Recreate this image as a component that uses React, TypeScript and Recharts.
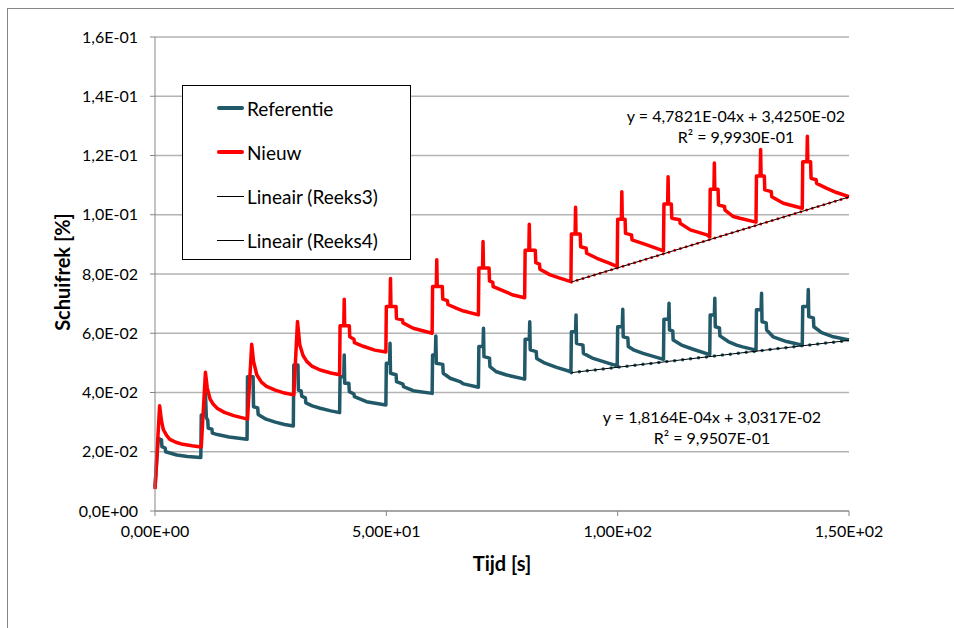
import { LineChart, Line, XAxis, YAxis, CartesianGrid } from 'recharts'

// [tijd (s), schuifrek]
const referentie: [number, number][] = [
  [0, 0.008], [0.7, 0.0245], [1.4, 0.024], [1.5, 0.0217], [2.2, 0.0212], [2.3, 0.02], [4.7, 0.0189], [7.0, 0.0184], [9.9, 0.0181],
  [10.0, 0.0324], [10.8, 0.0324], [10.9, 0.04], [11.1, 0.0315], [11.4, 0.0307], [11.5, 0.028], [12.3, 0.0276], [12.4, 0.0263], [13.5, 0.0258], [16.0, 0.025], [19.9, 0.0242],
  [20.0, 0.0453], [21.2, 0.0453], [21.3, 0.0352], [22.2, 0.0348], [22.3, 0.0326], [24.0, 0.031], [26.0, 0.03], [28.0, 0.0292], [29.9, 0.0287],
  [30.0, 0.0493], [30.9, 0.0493], [31.0, 0.0408], [31.6, 0.0405], [31.7, 0.0388], [32.5, 0.0382], [32.6, 0.0365], [34.0, 0.0355], [35.7, 0.0347], [38.0, 0.0338], [39.9, 0.0332],
  [40.0, 0.0453], [40.8, 0.0453], [40.9, 0.0527], [41.0, 0.0431], [41.9, 0.0431], [42.0, 0.0403], [43.0, 0.0395], [43.1, 0.0386], [45.7, 0.0369], [49.9, 0.0358],
  [50.0, 0.0499], [50.7, 0.0499], [50.8, 0.0566], [50.9, 0.0465], [52.1, 0.046], [52.2, 0.0437], [53.6, 0.0428], [53.7, 0.042], [55.8, 0.0406], [59.9, 0.0397],
  [60.0, 0.0527], [60.6, 0.0527], [60.7, 0.0591], [60.8, 0.0499], [62.2, 0.0495], [62.3, 0.0465], [63.8, 0.0448], [65.9, 0.0437], [66.7, 0.0429], [69.9, 0.0418],
  [70.0, 0.0555], [70.9, 0.0555], [71.0, 0.0617], [71.1, 0.0521], [72.3, 0.0516], [72.4, 0.0487], [73.8, 0.047], [76.0, 0.0459], [79.9, 0.0445],
  [80.0, 0.058], [80.9, 0.058], [81.0, 0.0639], [81.1, 0.0544], [82.4, 0.0538], [82.5, 0.0515], [84.3, 0.0499], [86.8, 0.0485], [89.9, 0.047],
  [90.0, 0.0605], [90.9, 0.0605], [91.0, 0.0662], [91.1, 0.0566], [92.5, 0.056], [92.6, 0.0532], [94.7, 0.0515], [97.6, 0.0501], [99.9, 0.049],
  [100.0, 0.0622], [101.0, 0.0622], [101.1, 0.0681], [101.2, 0.0588], [102.2, 0.0584], [102.3, 0.0555], [103.4, 0.0544], [105.5, 0.0532], [109.9, 0.0512],
  [110.0, 0.0647], [111.0, 0.0647], [111.1, 0.0701], [111.2, 0.0611], [111.9, 0.0608], [112.0, 0.0577], [113.8, 0.056], [116.3, 0.0546], [119.9, 0.0528],
  [120.0, 0.0662], [120.9, 0.0662], [121.0, 0.0718], [121.1, 0.0622], [122.0, 0.0618], [122.1, 0.0591], [123.9, 0.0572], [125.7, 0.056], [127.0, 0.0554], [129.9, 0.0543],
  [130.0, 0.0679], [131.0, 0.0679], [131.1, 0.0735], [131.2, 0.0639], [132.1, 0.0635], [132.2, 0.0611], [133.6, 0.0588], [136.5, 0.0572], [139.9, 0.056],
  [140.0, 0.069], [141.1, 0.069], [141.2, 0.0748], [141.3, 0.0656], [142.3, 0.0652], [142.4, 0.0622], [144.1, 0.0602], [146.6, 0.0588], [150.0, 0.0577],
]

const nieuw: [number, number][] = [
  [0, 0.0074], [1.0, 0.0355], [1.4, 0.0305], [1.8, 0.0275], [2.5, 0.0255], [3.2, 0.0242], [4.5, 0.0232], [6.0, 0.0225], [8.0, 0.022], [10.0, 0.0216],
  [10.9, 0.0468], [11.3, 0.0415], [11.9, 0.0378], [12.6, 0.036], [13.5, 0.0346], [15.0, 0.0333], [17.0, 0.0322], [20.0, 0.031],
  [20.9, 0.0563], [21.3, 0.0505], [22.0, 0.046], [23.0, 0.0435], [24.1, 0.0421], [26.0, 0.0408], [28.0, 0.0398], [30.0, 0.0392],
  [30.8, 0.064], [31.3, 0.056], [32.0, 0.0525], [32.8, 0.0505], [34.0, 0.0488], [35.7, 0.0476], [38.0, 0.0466], [39.9, 0.046],
  [40.0, 0.0625], [40.8, 0.0625], [40.9, 0.0715], [41.0, 0.0625], [42.0, 0.0625], [42.1, 0.0588], [43.0, 0.058], [43.1, 0.0568], [45.0, 0.0556], [47.5, 0.0543], [49.9, 0.0537],
  [50.0, 0.069], [50.8, 0.069], [50.9, 0.0785], [51.0, 0.069], [52.1, 0.069], [52.2, 0.065], [53.5, 0.0645], [53.6, 0.0635], [55.8, 0.0617], [59.9, 0.06],
  [60.0, 0.0758], [60.8, 0.0758], [60.9, 0.0848], [61.0, 0.0758], [62.1, 0.0758], [62.2, 0.0715], [63.2, 0.071], [63.3, 0.0697], [65.2, 0.0684], [66.7, 0.0675], [69.9, 0.0662],
  [70.0, 0.082], [70.8, 0.082], [70.9, 0.091], [71.0, 0.082], [72.2, 0.082], [72.3, 0.0777], [73.0, 0.0772], [73.1, 0.0757], [75.3, 0.0743], [77.4, 0.0729], [79.9, 0.072],
  [80.0, 0.088], [80.8, 0.088], [80.9, 0.0968], [81.0, 0.088], [82.2, 0.088], [82.3, 0.0838], [83.1, 0.0833], [83.2, 0.0816], [85.4, 0.0797], [87.5, 0.0786], [89.9, 0.0774],
  [90.0, 0.0935], [90.8, 0.0935], [90.9, 0.1025], [91.0, 0.0935], [91.9, 0.0935], [92.0, 0.0892], [93.2, 0.0887], [93.3, 0.087], [95.5, 0.0853], [98.3, 0.0836], [99.9, 0.0825],
  [100.0, 0.0985], [100.8, 0.0985], [100.9, 0.1078], [101.0, 0.0985], [101.6, 0.0985], [101.7, 0.0937], [103.0, 0.0932], [103.1, 0.0915], [106.3, 0.0898], [109.9, 0.0878],
  [110.0, 0.1036], [110.8, 0.1036], [110.9, 0.1128], [111.0, 0.1036], [111.6, 0.1036], [111.7, 0.0988], [113.4, 0.0983], [113.5, 0.0971], [115.7, 0.0949], [119.3, 0.0932], [119.9, 0.0925],
  [120.0, 0.1086], [120.8, 0.1086], [120.9, 0.1175], [121.0, 0.1086], [121.7, 0.1086], [121.8, 0.1033], [123.1, 0.1028], [123.2, 0.1016], [125.0, 0.0994], [126.4, 0.0988], [129.9, 0.0975],
  [130.0, 0.1131], [130.8, 0.1131], [130.9, 0.122], [131.0, 0.1131], [131.7, 0.1131], [131.8, 0.1084], [133.2, 0.1078], [133.3, 0.1061], [135.8, 0.1039], [139.9, 0.1022],
  [140.0, 0.1179], [140.9, 0.1179], [141.0, 0.1265], [141.1, 0.1179], [141.7, 0.1179], [141.8, 0.1123], [142.9, 0.1118], [143.0, 0.1106], [145.2, 0.1089], [147.3, 0.1075], [150.0, 0.1061],
]

// trend line end points (x = 90 .. 150)
const reeks3: [number, number][] = [[90, 0.0773], [150, 0.106]]
const reeks4: [number, number][] = [[90, 0.0467], [150, 0.0576]]

const xTicks = [0, 50, 100, 150]
const yTicks = [0, 0.02, 0.04, 0.06, 0.08, 0.1, 0.12, 0.14, 0.16]

const trend3Text = ['y = 4,7821E-04x + 3,4250E-02', 'R² = 9,9930E-01']
const trend4Text = ['y = 1,8164E-04x + 3,0317E-02', 'R² = 9,9507E-01']

const toRows = (pts: [number, number][]) => pts.map(([t, v]) => ({ t, v }))

function sci(v: number, digits: number) {
  const [m, e] = v.toExponential(digits).split('e')
  const n = Number(e)
  const sign = n < 0 ? '-' : '+'
  return m.replace('.', ',') + 'E' + sign + String(Math.abs(n)).padStart(2, '0')
}

const BLUE = '#215968'
const RED = '#ff0000'
const FONT = 'Lato, "Open Sans", sans-serif'

const legendItems = [
  { name: 'Referentie', color: BLUE, width: 4 },
  { name: 'Nieuw', color: RED, width: 4 },
  { name: 'Lineair (Reeks3)', color: '#000', width: 1 },
  { name: 'Lineair (Reeks4)', color: '#000', width: 1 },
]

export default function App() {
  const tick = { fill: '#000', fontSize: 16, fontFamily: FONT }
  return (
    <div style={{ position: 'fixed', left: 0, top: 0, width: 954, height: 628, overflow: 'hidden', background: '#fff', fontFamily: FONT }}>
      <div style={{ position: 'absolute', left: 7, top: 8, width: 1000, height: 700, border: '1px solid #868686' }} />
      <div style={{ position: 'absolute', left: 0, top: 0 }}>
        <LineChart width={954} height={628} margin={{ top: 37, right: 105, bottom: 0, left: 0 }}>
          <CartesianGrid stroke="#b3b3b3" strokeWidth={1.3} vertical={false} />
          <XAxis
            dataKey="t"
            type="number"
            domain={[0, 150]}
            ticks={xTicks}
            tickFormatter={(v: number) => sci(v, 2)}
            height={117}
            tick={tick}
            tickSize={5}
            tickMargin={10}
            axisLine={{ stroke: '#868686' }}
            tickLine={{ stroke: '#868686' }}
          />
          <YAxis
            type="number"
            domain={[0, 0.16]}
            ticks={yTicks}
            tickFormatter={(v: number) => sci(v, 1)}
            width={155}
            tick={tick}
            tickSize={5}
            tickMargin={12}
            axisLine={{ stroke: '#868686' }}
            tickLine={{ stroke: '#868686' }}
          />
          <Line data={toRows(referentie)} dataKey="v" type="linear" stroke={BLUE} strokeWidth={3.5} strokeLinejoin="round" dot={false} isAnimationActive={false} />
          <Line data={toRows(nieuw)} dataKey="v" type="linear" stroke={RED} strokeWidth={3.5} strokeLinejoin="round" dot={false} isAnimationActive={false} />
          <Line data={toRows(reeks3)} dataKey="v" type="linear" stroke={RED} strokeWidth={3} strokeDasharray="0 6" strokeLinecap="round" dot={false} isAnimationActive={false} />
          <Line data={toRows(reeks4)} dataKey="v" type="linear" stroke={BLUE} strokeWidth={3.5} strokeDasharray="0 8" strokeLinecap="round" dot={false} isAnimationActive={false} />
          <Line data={toRows(reeks3)} dataKey="v" type="linear" stroke="#000" strokeWidth={1} dot={false} isAnimationActive={false} />
          <Line data={toRows(reeks4)} dataKey="v" type="linear" stroke="#000" strokeWidth={1} dot={false} isAnimationActive={false} />
        </LineChart>
      </div>

      <div style={{ position: 'absolute', left: 182, top: 85, width: 229, height: 175, border: '1px solid #000', background: '#fff', boxSizing: 'border-box' }}>
        {legendItems.map((it, i) => (
          <div key={it.name} style={{ position: 'absolute', left: 34, top: 22 + i * 44 - 12, height: 24, display: 'flex', alignItems: 'center', fontSize: 19, color: '#000', whiteSpace: 'nowrap' }}>
            <span style={{ display: 'inline-block', width: 27, height: it.width, background: it.color, borderRadius: it.width > 1 ? 2 : 0, marginRight: 3 }} />
            {it.name}
          </div>
        ))}
      </div>

      {[{ lines: trend3Text, x: 736, y: 115 }, { lines: trend4Text, x: 712, y: 416 }].map((a) =>
        a.lines.map((s, i) => (
          <div key={s} style={{ position: 'absolute', left: a.x, top: a.y + i * 21, transform: 'translate(-50%, -50%)', fontSize: 16, color: '#000', whiteSpace: 'nowrap' }}>
            {s}
          </div>
        ))
      )}

      <div style={{ position: 'absolute', left: 502, top: 563, transform: 'translate(-50%, -50%)', fontSize: 20, fontWeight: 700, whiteSpace: 'nowrap' }}>Tijd [s]</div>
      <div style={{ position: 'absolute', left: 62, top: 272, transform: 'translate(-50%, -50%) rotate(-90deg)', fontSize: 20, fontWeight: 700, whiteSpace: 'nowrap' }}>Schuifrek [%]</div>
    </div>
  )
}
